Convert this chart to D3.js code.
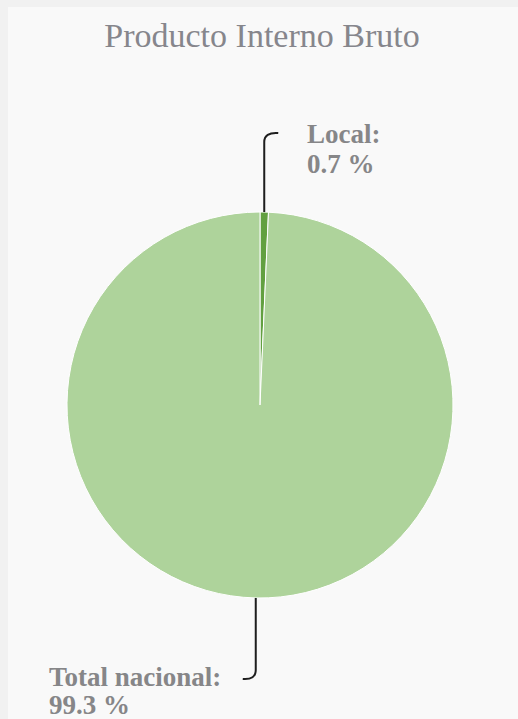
<!DOCTYPE html>
<meta charset="utf-8">
<style>
    body {
        margin: 0;
        background-color: #f1f1f1;
    }
    svg { display: block; }
    .title {
        font-family: "Liberation Serif", "Times New Roman", Times, "DejaVu Serif", serif;
        font-size: 34px;
        fill: #86868c;
    }
    .label {
        font-family: "Liberation Serif", "Times New Roman", Times, "DejaVu Serif", serif;
        font-size: 27px;
        font-weight: bold;
        fill: #868688;
    }
    .leader {
        fill: none;
        stroke: #1e1e1e;
        stroke-width: 2px;
    }
</style>
<svg width="518" height="719"></svg>
<script src="https://cdn.jsdelivr.net/npm/d3@7"></script>
<script>
    var categories = ["Local", "Total nacional"];
    var shares = [0.7, 99.3];
    var shareLabels = ["0.7 %", "99.3 %"];
    var colors = ["#62a040", "#aed39b"];

    var svg = d3.select("svg"),
        width = +svg.attr("width"),
        height = +svg.attr("height");

    // chart panel
    svg.append("rect")
        .attr("x", 8)
        .attr("y", 7)
        .attr("width", width - 8)
        .attr("height", height - 7)
        .attr("fill", "#f9f9f9");

    svg.append("text")
        .attr("class", "title")
        .attr("x", 262)
        .attr("y", 47)
        .attr("text-anchor", "middle")
        .text("Producto Interno Bruto");

    var cx = 260, cy = 405, radius = 193;

    var data = categories.map(function(c, i) {
        return {name: c, value: shares[i], label: shareLabels[i], color: colors[i]};
    });

    var pie = d3.pie()
        .sort(null)
        .value(function(d) { return d.value; });

    var arc = d3.arc().innerRadius(0).outerRadius(radius);

    var g = svg.append("g")
        .attr("transform", "translate(" + cx + "," + cy + ")");

    var arcs = pie(data);

    g.selectAll(".slice")
        .data(arcs)
        .enter().append("path")
        .attr("class", "slice")
        .attr("d", arc)
        .attr("fill", function(d) { return d.data.color; })
        .attr("stroke", "#ffffff")
        .attr("stroke-width", 1);

    // leader lines + labels (length of vertical run, hook direction)
    var leaders = [
        {run: 70, hook: 14, dir: -1, lx: 307 - cx, ly: 143 - cy, dy: 30},
        {run: 72, hook: -13, dir: 1, lx: 49 - cx, ly: 686 - cy, dy: 28}
    ];

    arcs.forEach(function(d, i) {
        var a = (d.startAngle + d.endAngle) / 2;
        var x0 = radius * Math.sin(a);
        var y0 = -radius * Math.cos(a);
        var L = leaders[i];
        var y1 = y0 + L.dir * L.run;
        var path = d3.path();
        path.moveTo(x0, y0);
        path.lineTo(x0, y1);
        path.quadraticCurveTo(x0, y1 + L.dir * 10, x0 + L.hook, y1 + L.dir * 9);
        g.append("path")
            .attr("class", "leader")
            .attr("d", path.toString());

        var t = g.append("text")
            .attr("class", "label")
            .attr("x", L.lx)
            .attr("y", L.ly);
        t.append("tspan").attr("x", L.lx).text(d.data.name + ":");
        t.append("tspan").attr("x", L.lx).attr("dy", L.dy).text(d.data.label);
    });
</script>
